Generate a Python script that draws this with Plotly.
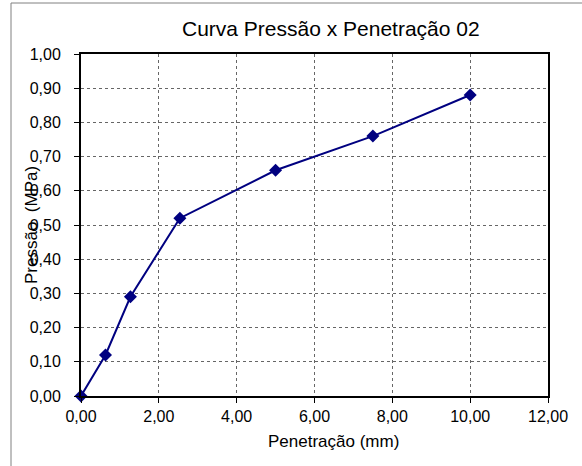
import plotly.graph_objects as go

penetracao = [0.0, 0.63, 1.27, 2.54, 5.0, 7.5, 10.0]
pressao = [0.0, 0.12, 0.29, 0.52, 0.66, 0.76, 0.88]
x_ticks = [0, 2, 4, 6, 8, 10, 12]
y_ticks = [0.0, 0.1, 0.2, 0.3, 0.4, 0.5, 0.6, 0.7, 0.8, 0.9, 1.0]

FONT = "Liberation Sans, Arial, sans-serif"
L, R, T, B = 81, 548, 54, 396
W, H = 582, 466
pw, ph = R - L, B - T

def px(x):
    return (x - L) / pw

def py(y):
    return (B - y) / ph

fig = go.Figure()
fig.add_trace(go.Scatter(
    x=penetracao, y=pressao, mode="lines+markers",
    line=dict(color="#000080", width=2),
    marker=dict(symbol="diamond", size=10, color="#000080"),
    cliponaxis=False, showlegend=False,
))

axis_common = dict(
    showline=True, linecolor="black", linewidth=2, mirror=True,
    ticks="outside", ticklen=5, tickcolor="black", tickwidth=1,
    showgrid=True, gridcolor="#666666", griddash="dot", gridwidth=1,
    zeroline=False, tickformat=".2f", automargin=False,
    tickfont=dict(family=FONT, size=16, color="black"),
)

fig.update_xaxes(range=[0, 12], tickvals=x_ticks, **axis_common)
fig.update_yaxes(range=[0, 1], tickvals=y_ticks, ticklabelstandoff=10, **axis_common)

fig.update_layout(
    width=W, height=H, autosize=False,
    margin=dict(l=L, r=W - R, t=T, b=H - B, pad=0),
    paper_bgcolor="white", plot_bgcolor="white",
    separators=",.",
    font=dict(family=FONT, color="black"),
    annotations=[
        dict(text="Curva Pressão x Penetração 02", xref="paper", yref="paper",
             x=px(331), y=py(28), xanchor="center", yanchor="middle",
             showarrow=False, font=dict(family=FONT, size=21, color="black")),
        dict(text="Penetração (mm)", xref="paper", yref="paper",
             x=px(333), y=py(441), xanchor="center", yanchor="middle",
             showarrow=False, font=dict(family=FONT, size=17, color="black")),
        dict(text="Pressão  (MPa)", xref="paper", yref="paper",
             x=px(31), y=py(225), xanchor="center", yanchor="middle",
             textangle=-90, showarrow=False,
             font=dict(family=FONT, size=17, color="black")),
    ],
    shapes=[
        dict(type="rect", xref="paper", yref="paper",
             x0=px(11), y0=py(480), x1=px(600), y1=py(3),
             line=dict(color="#808080", width=1), layer="below"),
    ],
)

fig.write_html(
    "out.html",
    config={"displayModeBar": False},
    post_script="document.body.style.margin='0';document.body.style.overflow='hidden';",
)
